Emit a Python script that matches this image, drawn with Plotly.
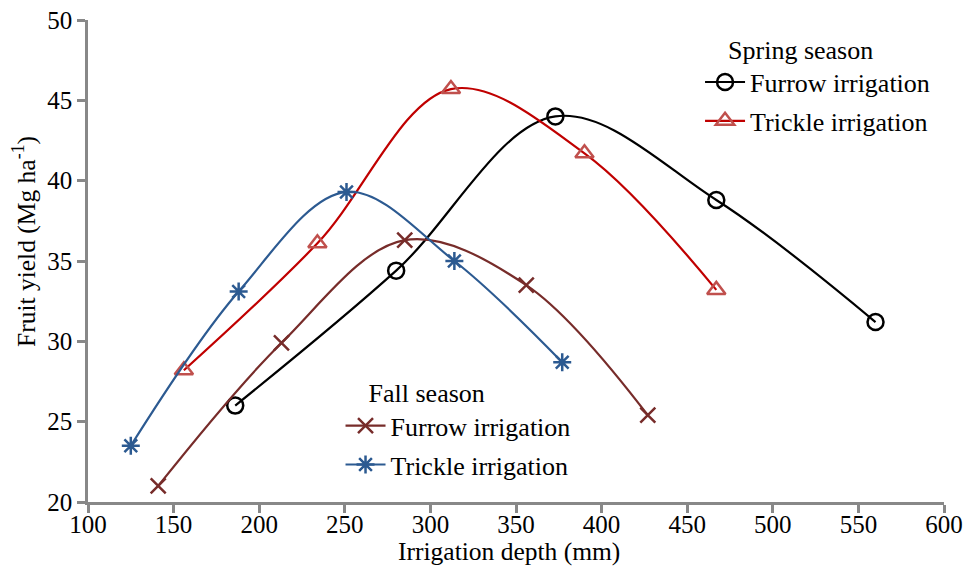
import plotly.graph_objects as go

spring_furrow_x = [186, 280, 373, 467, 560]
spring_furrow_y = [26.0, 34.4, 44.0, 38.8, 31.2]
spring_trickle_x = [156, 234, 312, 390, 467]
spring_trickle_y = [28.2, 36.1, 45.7, 41.7, 33.2]
fall_furrow_x = [141, 213, 285, 356, 427]
fall_furrow_y = [21.0, 29.9, 36.3, 33.5, 25.4]
fall_trickle_x = [125, 188, 251, 314, 377]
fall_trickle_y = [23.5, 33.1, 39.3, 35.0, 28.7]

FONT = "Liberation Serif, Times New Roman, serif"

fig = go.Figure()

def add(x, y, name, color, mcolor, symbol, size, legend, group):
    fig.add_trace(go.Scatter(
        x=x, y=y, mode="lines+markers", name=name,
        line=dict(color=color, width=2.2, shape="spline", smoothing=1.0),
        marker=dict(symbol=symbol, size=size, color=mcolor,
                    line=dict(color=mcolor, width=2.5)),
        legend=legend, legendgroup=group,
    ))

add(spring_furrow_x, spring_furrow_y, "Furrow irrigation", "#000000", "#000000",
    "circle-open", 16, "legend", "sf")
add(spring_trickle_x, spring_trickle_y, "Trickle irrigation", "#c00000", "#c0504d",
    "triangle-up-open", 16, "legend", "st")
add(fall_furrow_x, fall_furrow_y, "Furrow irrigation", "#772c2a", "#772c2a",
    "x-thin-open", 15, "legend2", "ff")
add(fall_trickle_x, fall_trickle_y, "Trickle irrigation", "#2c5a91", "#2c5a91",
    "asterisk-open", 15, "legend2", "ft")

legend_common = dict(
    font=dict(family=FONT, size=26, color="#000"),
    bgcolor="rgba(0,0,0,0)", tracegroupgap=2, traceorder="grouped",
    xanchor="left", yanchor="top", itemwidth=40,
)

fig.update_layout(
    width=970, height=567,
    margin=dict(l=88, r=26, t=20, b=65),
    paper_bgcolor="white", plot_bgcolor="white",
    font=dict(family=FONT, size=25, color="#000"),
    showlegend=True,
    legend=dict(x=0.715, y=0.99,
                title=dict(text="    Spring season", side="top",
                           font=dict(family=FONT, size=26)),
                **legend_common),
    legend2=dict(x=0.295, y=0.277,
                 title=dict(text="    Fall season", side="top",
                            font=dict(family=FONT, size=26)),
                 **legend_common),
    xaxis=dict(range=[100, 600], tickvals=[100, 150, 200, 250, 300, 350, 400, 450, 500, 550, 600],
               showgrid=False, zeroline=False, showline=True, linecolor="#888", linewidth=2.5,
               ticks="outside", tickcolor="#888", tickwidth=2.5, ticklen=8, automargin=False,
               ticklabelstandoff=-10,
               tickfont=dict(family=FONT, size=25)),
    yaxis=dict(range=[20, 50], tickvals=[20, 25, 30, 35, 40, 45, 50],
               showgrid=False, zeroline=False, showline=True, linecolor="#888", linewidth=2.5,
               ticks="outside", tickcolor="#888", tickwidth=2.5, ticklen=8, automargin=False,
               tickfont=dict(family=FONT, size=25)),
    annotations=[
        dict(text="Irrigation depth (mm)", xref="paper", yref="paper",
             x=(509 - 88) / 856, y=(502 - 567) / 482, xanchor="center", yanchor="bottom",
             showarrow=False, borderpad=0, font=dict(family=FONT, size=25.5, color="#000")),
        dict(text="Fruit yield (Mg ha<sup>-1</sup>)", xref="paper", yref="paper",
             x=(25 - 88) / 856, y=1 - (242 - 20) / 482, xanchor="center", yanchor="middle",
             textangle=-90, showarrow=False, font=dict(family=FONT, size=25.5, color="#000")),
    ],
)

fig.write_html("out.html")
